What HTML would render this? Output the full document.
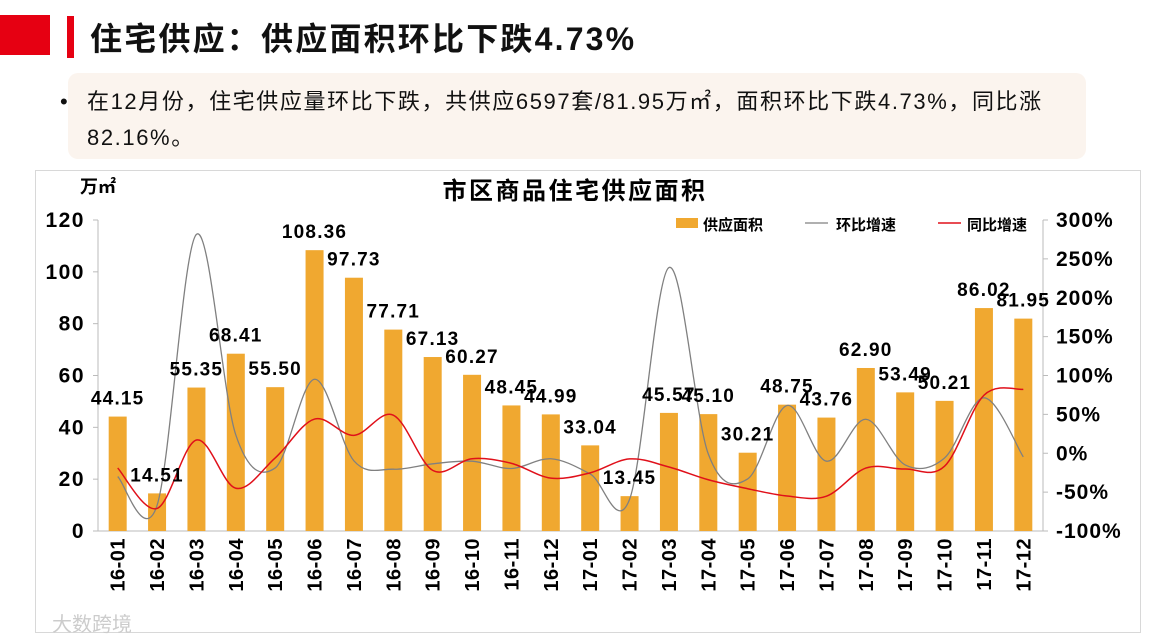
<!DOCTYPE html>
<html><head><meta charset="utf-8"><style>
body{margin:0;width:1153px;height:642px;background:#fff;overflow:hidden;font-family:"Liberation Sans","Noto Sans CJK SC",sans-serif;position:relative}
.abs{position:absolute}
</style></head><body>
<div class="abs" style="left:0;top:15px;width:50px;height:40px;background:#e60012"></div>
<div class="abs" style="left:67px;top:16px;width:7px;height:42px;background:#e60012"></div>
<div class="abs" style="left:90px;top:14px;font-size:32px;font-weight:bold;color:#111;letter-spacing:2.2px">住宅供应：供应面积环比下跌4.73%</div>
<div class="abs" style="left:68px;top:73px;width:1018px;height:86px;background:#fbf4ee;border-radius:10px"></div>
<div class="abs" style="left:60px;top:84px;width:1060px;font-size:22px;line-height:36px;color:#111;letter-spacing:1.6px;white-space:nowrap">
<span style="position:absolute;left:0">•</span><div style="padding-left:27px">在12月份，住宅供应量环比下跌，共供应6597套/81.95万㎡，面积环比下跌4.73%，同比涨<br>82.16%。</div></div>
<div class="abs" style="left:35px;top:170px;width:1104px;height:461px;border:1px solid #d8d8d8"></div>
<svg class="abs" style="left:0;top:0" width="1153" height="642" id="chart"></svg>
<script>
const categories=["16-01","16-02","16-03","16-04","16-05","16-06","16-07","16-08","16-09","16-10","16-11","16-12","17-01","17-02","17-03","17-04","17-05","17-06","17-07","17-08","17-09","17-10","17-11","17-12"];
const supplyArea=[44.15,14.51,55.35,68.41,55.50,108.36,97.73,77.71,67.13,60.27,48.45,44.99,33.04,13.45,45.57,45.10,30.21,48.75,43.76,62.90,53.49,50.21,86.02,81.95];
const momGrowth=[-30,-67.1,281.5,23.6,-18.9,95.2,-9.8,-20.5,-13.6,-10.2,-19.6,-7.1,-26.6,-59.3,238.8,-1.0,-33.0,61.4,-10.2,43.7,-15.0,-6.1,71.3,-4.7];
const yoyGrowth=[-19,-71,17,-45,-6,44,23,49,-22,-7,-13,-32,-25.2,-7.3,-17.7,-34.1,-45.6,-55.0,-55.2,-19.1,-20.3,-16.7,74.6,82.2];
const leftTicks=[0,20,40,60,80,100,120];
const rightTicks=[-100,-50,0,50,100,150,200,250,300];
const NS="http://www.w3.org/2000/svg";
const svg=document.getElementById('chart');
const X0=98,X1=1043,Y0=531,Y1=220;
const bw=(X1-X0)/categories.length;
const xC=i=>X0+bw*(i+0.5);
const yL=v=>Y0-(v/120)*(Y0-Y1);
const yR=v=>Y0-((v+100)/400)*(Y0-Y1);
function mk(t,a,p){const e=document.createElementNS(NS,t);for(const k in a)e.setAttribute(k,a[k]);(p||svg).appendChild(e);return e;}
const F='"Liberation Sans","Noto Sans CJK SC",sans-serif';
let e=mk('line',{x1:X0,y1:Y1,x2:X0,y2:Y0,stroke:'#bbb'});

e=mk('line',{x1:X1,y1:Y1,x2:X1,y2:Y0,stroke:'#bbb'});

e=mk('line',{x1:X0,y1:Y0,x2:X1,y2:Y0,stroke:'#bbb'});

leftTicks.forEach(v=>{mk('line',{x1:X0-5,x2:X0,y1:yL(v),y2:yL(v),stroke:'#bbb'});
 const t=mk('text',{x:85,y:yL(v)+7,'text-anchor':'end','font-size':21,'font-weight':'bold','font-family':F,'letter-spacing':1.5});t.textContent=v;
 });
rightTicks.forEach(v=>{mk('line',{x1:X1,x2:X1+5,y1:yR(v),y2:yR(v),stroke:'#bbb'});
 const t=mk('text',{x:1056,y:yR(v)+7,'font-size':21,'font-weight':'bold','font-family':F,'letter-spacing':1});t.textContent=v+'%';
 });
supplyArea.forEach((v,i)=>{const r=mk('rect',{x:xC(i)-9,y:yL(v),width:18,height:Y0-yL(v),fill:'#f0a830'});
 });
function smooth(vals,fy){const p=vals.map((v,i)=>[xC(i),fy(v)]);let d='M'+p[0][0]+','+p[0][1];
 for(let i=0;i<p.length-1;i++){const a=p[i-1]||p[i],b=p[i],c=p[i+1],n=p[i+2]||c;
  d+=` C${b[0]+(c[0]-a[0])/6},${b[1]+(c[1]-a[1])/6} ${c[0]-(n[0]-b[0])/6},${c[1]-(n[1]-b[1])/6} ${c[0]},${c[1]}`;}return d;}
e=mk('path',{d:smooth(momGrowth,yR),fill:'none',stroke:'#808080','stroke-width':1.3});

e=mk('path',{d:smooth(yoyGrowth,yR),fill:'none',stroke:'#e0101a','stroke-width':1.5});

supplyArea.forEach((v,i)=>{const t=mk('text',{x:xC(i),y:yL(v)-12,'text-anchor':'middle','font-size':19,'font-weight':'bold','font-family':F,'letter-spacing':1.2});
 t.textContent=v.toFixed(2);});
categories.forEach((c,i)=>{const t=mk('text',{transform:`translate(${xC(i)+7},538) rotate(-90)`,'text-anchor':'end','font-size':20,'font-weight':'bold','font-family':F,'letter-spacing':0.5});
 t.textContent=c;});
e=mk('text',{x:575,y:199,'text-anchor':'middle','font-size':24,'font-weight':'bold','font-family':F,'letter-spacing':2.5});e.textContent='市区商品住宅供应面积';

e=mk('text',{x:80,y:193,'font-size':18,'font-weight':'bold','font-family':F});e.textContent='万㎡';

e=mk('rect',{x:676,y:218,width:22,height:10,fill:'#f0a830'});
e=mk('text',{x:703,y:230,'font-size':15,'font-weight':'bold','font-family':F});e.textContent='供应面积';
e=mk('line',{x1:805,x2:828,y1:223,y2:223,stroke:'#808080','stroke-width':1.3});
e=mk('text',{x:836,y:230,'font-size':15,'font-weight':'bold','font-family':F});e.textContent='环比增速';
e=mk('line',{x1:938,x2:961,y1:223,y2:223,stroke:'#e0101a','stroke-width':1.5});
e=mk('text',{x:967,y:230,'font-size':15,'font-weight':'bold','font-family':F});e.textContent='同比增速';
e=mk('text',{x:52,y:631,'font-size':20,fill:'#ccc','font-family':F});e.textContent='大数跨境';
</script>
</body></html>
